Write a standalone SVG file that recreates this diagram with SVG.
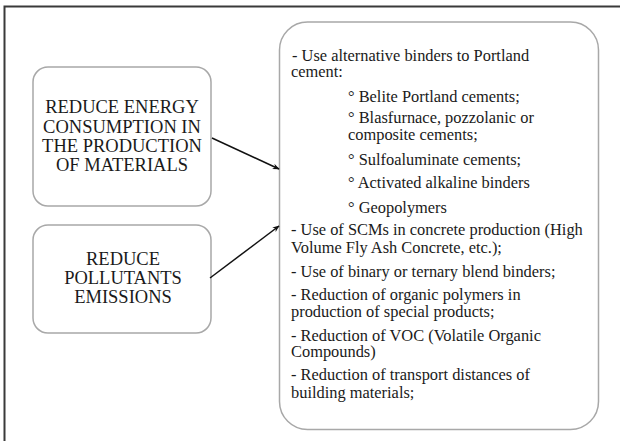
<svg xmlns="http://www.w3.org/2000/svg" width="620" height="441" viewBox="0 0 620 441">
<style>
text{font-family:'Liberation Serif','Times New Roman',serif;fill:#1a1a1a}
.box{fill:#fff;stroke:#a8a8a8;stroke-width:1.5}
.head{font-size:18.5px;text-anchor:middle}
.item{font-size:16.4px}
.conn{stroke:#111;stroke-width:1.5;fill:none;marker-end:url(#arr)}
</style>
<defs>
<marker id="arr" viewBox="0 0 10 10" refX="9" refY="5" markerWidth="7" markerHeight="7" orient="auto" markerUnits="userSpaceOnUse">
<path d="M0,1 L10,5 L0,9 L3,5 Z" fill="#111"/>
</marker>
</defs>
<rect x="0" y="0" width="620" height="441" fill="#fff"/>
<rect x="4.5" y="6.5" width="700" height="500" fill="none" stroke="#3a3a3a" stroke-width="2"/>
<g id="node-energy">
<rect class="box" x="33" y="67" width="178" height="139" rx="15"/>
<text class="head" x="122" y="113">REDUCE ENERGY</text>
<text class="head" x="122" y="133">CONSUMPTION IN</text>
<text class="head" x="122" y="152">THE PRODUCTION</text>
<text class="head" x="122" y="171">OF MATERIALS</text>
</g>
<g id="node-pollutants">
<rect class="box" x="33" y="225" width="178" height="108" rx="15"/>
<text class="head" x="123" y="265">REDUCE</text>
<text class="head" x="123" y="284">POLLUTANTS</text>
<text class="head" x="123" y="303">EMISSIONS</text>
</g>
<g id="node-measures">
<rect class="box" x="279.5" y="22" width="319" height="407.5" rx="28" stroke="#9a9a9a"/>
<text class="item" x="292" y="61"> - Use alternative binders to Portland</text>
<text class="item" x="291" y="77">cement:</text>
<text class="item" x="348" y="102">° Belite Portland cements;</text>
<text class="item" x="348" y="123">° Blasfurnace, pozzolanic or</text>
<text class="item" x="348" y="140">composite cements;</text>
<text class="item" x="348" y="165">° Sulfoaluminate cements;</text>
<text class="item" x="348" y="188">° Activated alkaline binders</text>
<text class="item" x="348" y="213">° Geopolymers</text>
<text class="item" x="291" y="235">- Use of SCMs in concrete production (High</text>
<text class="item" x="291" y="253">Volume Fly Ash Concrete, etc.);</text>
<text class="item" x="291" y="277">- Use of binary or ternary blend binders;</text>
<text class="item" x="291" y="300">- Reduction of organic polymers in</text>
<text class="item" x="291" y="317">production of special products;</text>
<text class="item" x="291" y="341">- Reduction of VOC (Volatile Organic</text>
<text class="item" x="291" y="357">Compounds)</text>
<text class="item" x="291" y="380">- Reduction of transport distances of</text>
<text class="item" x="291" y="398">building materials;</text>
</g>
<g id="connectors">
<line class="conn" x1="212" y1="138" x2="279" y2="169"/>
<line class="conn" x1="210" y1="278" x2="279" y2="226"/>
</g>
</svg>
